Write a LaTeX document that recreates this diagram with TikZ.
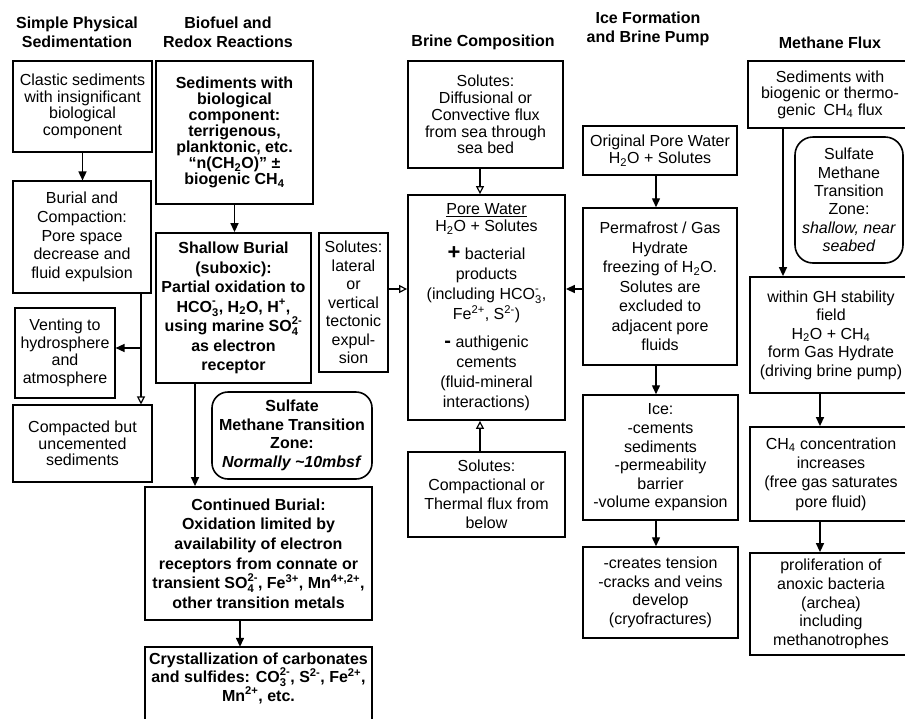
\documentclass[tikz,border=0pt]{standalone}
\usepackage{fontspec}
\setmainfont{Liberation Sans}
\usetikzlibrary{arrows.meta,calc}
\newcommand{\chs}[2]{{\setbox0\hbox{\raisebox{-1.5pt}{\textsubscript{#1}}}\setbox2\hbox{\raisebox{1pt}{\textsuperscript{#2}}}%
  \ifdim\wd0>\wd2 \rlap{\box2}\box0\else\rlap{\box0}\box2\fi}}
\newcommand{\fs}[1]{\fontsize{16}{#1}\selectfont}
\begin{document}
\begin{tikzpicture}[x=1pt,y=-1pt,
  base/.style={align=center, inner sep=0pt},
  hd/.style={base, font=\fontsize{16}{19}\selectfont\bfseries},
  bx/.style={base, draw, line width=1.1pt},
  bxm/.style={base, draw, line width=1.5pt},
  bxb/.style={base, draw, line width=1.8pt},
  rbx/.style={base, draw, line width=1.6pt, rounded corners=16pt},
  arr/.style={line width=1.4pt, -{Triangle[length=9pt,width=8pt]}},
  oarr/.style={line width=1.2pt, -{Triangle[open,length=8pt,width=8pt,fill=white]}},
]
\useasboundingbox (0,0) rectangle (905,718);
\clip (0,0) rectangle (905,718);

% headings
\node[hd] (h1) at (77,32) {Simple Physical\\Sedimentation};
\node[hd] (h2) at (228,32) {Biofuel and\\Redox Reactions};
\node[hd] (h3) at (483,42) {Brine Composition};
\node[hd] (h4) at (648,29) {Ice Formation\\and Brine Pump};
\node[hd] (h5) at (830,43) {Methane Flux};

% column 1
\node[bx, minimum width=139, minimum height=91, font=\fs{16.5}] (clastic) at (82.5,106.5)
  {Clastic sediments\\with insignificant\\biological\\component};
\node[bx, minimum width=138, minimum height=112, font=\fs{18.7}] (burial) at (82,237)
  {Burial and\\Compaction:\\Pore space\\decrease and\\fluid expulsion};
\node[bx, minimum width=100, minimum height=90, font=\fs{17.5}] (venting) at (65,353)
  {Venting to\\hydrosphere\\and\\atmosphere};
\node[bx, minimum width=139, minimum height=77, font=\fs{16.5}] (compacted) at (82.5,443.5)
  {Compacted but\\uncemented\\sediments};

% column 2
\node[bxb, minimum width=157, minimum height=143, font=\fs{16}\bfseries] (sedbio) at (234.5,132.5)
  {Sediments with\\biological\\component:\\terrigenous,\\planktonic, etc.\\“n(CH\textsubscript{2}O)” ±\\biogenic CH\textsubscript{4}};
\node[bxb, minimum width=155, minimum height=150, font=\fs{19.5}\bfseries] (shallow) at (233.5,308)
  {Shallow Burial\\(suboxic):\\Partial oxidation to\\HCO\chs{3}{-}, H\textsubscript{2}O, H\textsuperscript{+},\\using marine SO\chs{4}{2-}\\as electron\\receptor};
\node[rbx, minimum width=160, minimum height=87, font=\fs{18.5}\bfseries] (smtz1) at (292,435.5)
  {Sulfate\\Methane Transition\\Zone:\\\textit{Normally \textasciitilde10mbsf}};
\node[bxb, minimum width=227, minimum height=133, font=\fs{19.6}\bfseries] (continued) at (258.5,553.5)
  {Continued Burial:\\Oxidation limited by\\availability of electron\\receptors from connate or\\transient SO\chs{4}{2-}, Fe\textsuperscript{3+}, Mn\textsuperscript{4+,2+},\\other transition metals};
\node[base, minimum width=227, minimum height=62, font=\fs{18.5}\bfseries] (crystal) at (258.5,678)
  {Crystallization of carbonates\\and sulfides: CO\chs{3}{2-}, S\textsuperscript{2-}, Fe\textsuperscript{2+},\\Mn\textsuperscript{2+}, etc.};
\draw[line width=1.8pt] (crystal.south west) ++(0,30) -- (crystal.north west) -- (crystal.north east) -- ++(0,95);

% centre column
\node[bx, minimum width=155, minimum height=107, font=\fs{16.8}] (solD) at (485.5,114.5)
  {Solutes:\\Diffusional or\\Convective flux\\from sea through\\sea bed};
\node[bxb, minimum width=157, minimum height=225, font=\fs{20}] (pore) at (486.5,307.5)
  {\underline{Pore Water}\\[-3pt]H\textsubscript{2}O + Solutes\\[8pt]{\bfseries\fontsize{22}{20}\selectfont +} bacterial\\products\\(including HCO\chs{3}{-},\\Fe\textsuperscript{2+}, S\textsuperscript{2-})\\[8pt]{\bfseries\fontsize{20}{20}\selectfont -} authigenic\\cements\\(fluid-mineral\\interactions)};
\node[bx, minimum width=69, minimum height=139, font=\fs{18.5}] (solL) at (353.5,302.5)
  {Solutes:\\lateral\\or\\vertical\\tectonic\\expul-\\sion};
\node[bx, minimum width=157, minimum height=85, font=\fs{19}] (solC) at (486.5,494.5)
  {Solutes:\\Compactional or\\Thermal flux from\\below};

% ice column
\node[bxm, minimum width=154, minimum height=49, font=\fs{17}] (origpw) at (660,150.5)
  {Original Pore Water\\H\textsubscript{2}O + Solutes};
\node[bxm, minimum width=154, minimum height=157, font=\fs{19.5}] (perma) at (660,286.5)
  {Permafrost / Gas\\Hydrate\\freezing of H\textsubscript{2}O.\\Solutes are\\excluded to\\adjacent pore\\fluids};
\node[bxm, minimum width=155, minimum height=125, font=\fs{18.6}] (ice) at (660.5,457.5)
  {Ice:\\-cements\\sediments\\-permeability\\barrier\\-volume expansion};
\node[bxm, minimum width=155, minimum height=91, font=\fs{18.7}] (tension) at (660.5,592.5)
  {-creates tension\\-cracks and veins\\develop\\(cryofractures)};

% methane column
\node[bxb, minimum width=164, minimum height=67, font=\fs{16.5}] (m1) at (830,94.5)
  {Sediments with\\biogenic or thermo-\\genic\enspace CH\textsubscript{4} flux};
\node[rbx, minimum width=108, minimum height=126, rounded corners=18pt, font=\fs{18.4}] (smtz2) at (849,200)
  {Sulfate\\Methane\\Transition\\Zone:\\\textit{shallow, near}\\\textit{seabed}};
\node[bxb, minimum width=162, minimum height=116, font=\fs{18.5}] (m2) at (831,335)
  {within GH stability\\field\\H\textsubscript{2}O + CH\textsubscript{4}\\form Gas Hydrate\\(driving brine pump)};
\node[bxb, minimum width=162, minimum height=94, font=\fs{19.3}] (m3) at (831,474)
  {CH\textsubscript{4} concentration\\increases\\(free gas saturates\\pore fluid)};
\node[bxb, minimum width=162, minimum height=102, font=\fs{18.7}] (m4) at (831,604)
  {proliferation of\\anoxic bacteria\\(archea)\\including\\methanotrophes};

% connectors
\coordinate (jv) at (141,348);
\draw[arr] (clastic.south) -- (clastic.south |- burial.north);
\draw[line width=1.4pt] (burial.south -| jv) -- (jv);
\draw[oarr] (jv) -- (jv |- compacted.north);
\draw[arr] (jv) -- (jv -| venting.east);

\draw[arr] (sedbio.south) -- (sedbio.south |- shallow.north);
\coordinate (sb) at (195,0);
\draw[arr] (shallow.south -| sb) -- (continued.north -| sb);
\coordinate (cb) at (240,0);
\draw[arr] (continued.south -| cb) -- (crystal.north -| cb);

\coordinate (pc) at (480,0);
\coordinate (py) at (0,289);
\draw[oarr] (solD.south -| pc) -- (pore.north -| pc);
\draw[oarr] (solL.east |- py) -- (pore.west |- py);
\draw[arr] (perma.west |- py) -- (pore.east |- py);
\draw[oarr] (solC.north -| pc) -- (pore.south -| pc);

\coordinate (ic) at (656,0);
\draw[arr] (origpw.south -| ic) -- (perma.north -| ic);
\draw[arr] (perma.south -| ic) -- (ice.north -| ic);
\draw[arr] (ice.south -| ic) -- (tension.north -| ic);

\coordinate (mc1) at (783,0);
\coordinate (mc2) at (820,0);
\draw[arr] (m1.south -| mc1) -- (m2.north -| mc1);
\draw[arr] (m2.south -| mc2) -- (m3.north -| mc2);
\draw[arr] (m3.south -| mc2) -- (m4.north -| mc2);
\end{tikzpicture}
\end{document}
